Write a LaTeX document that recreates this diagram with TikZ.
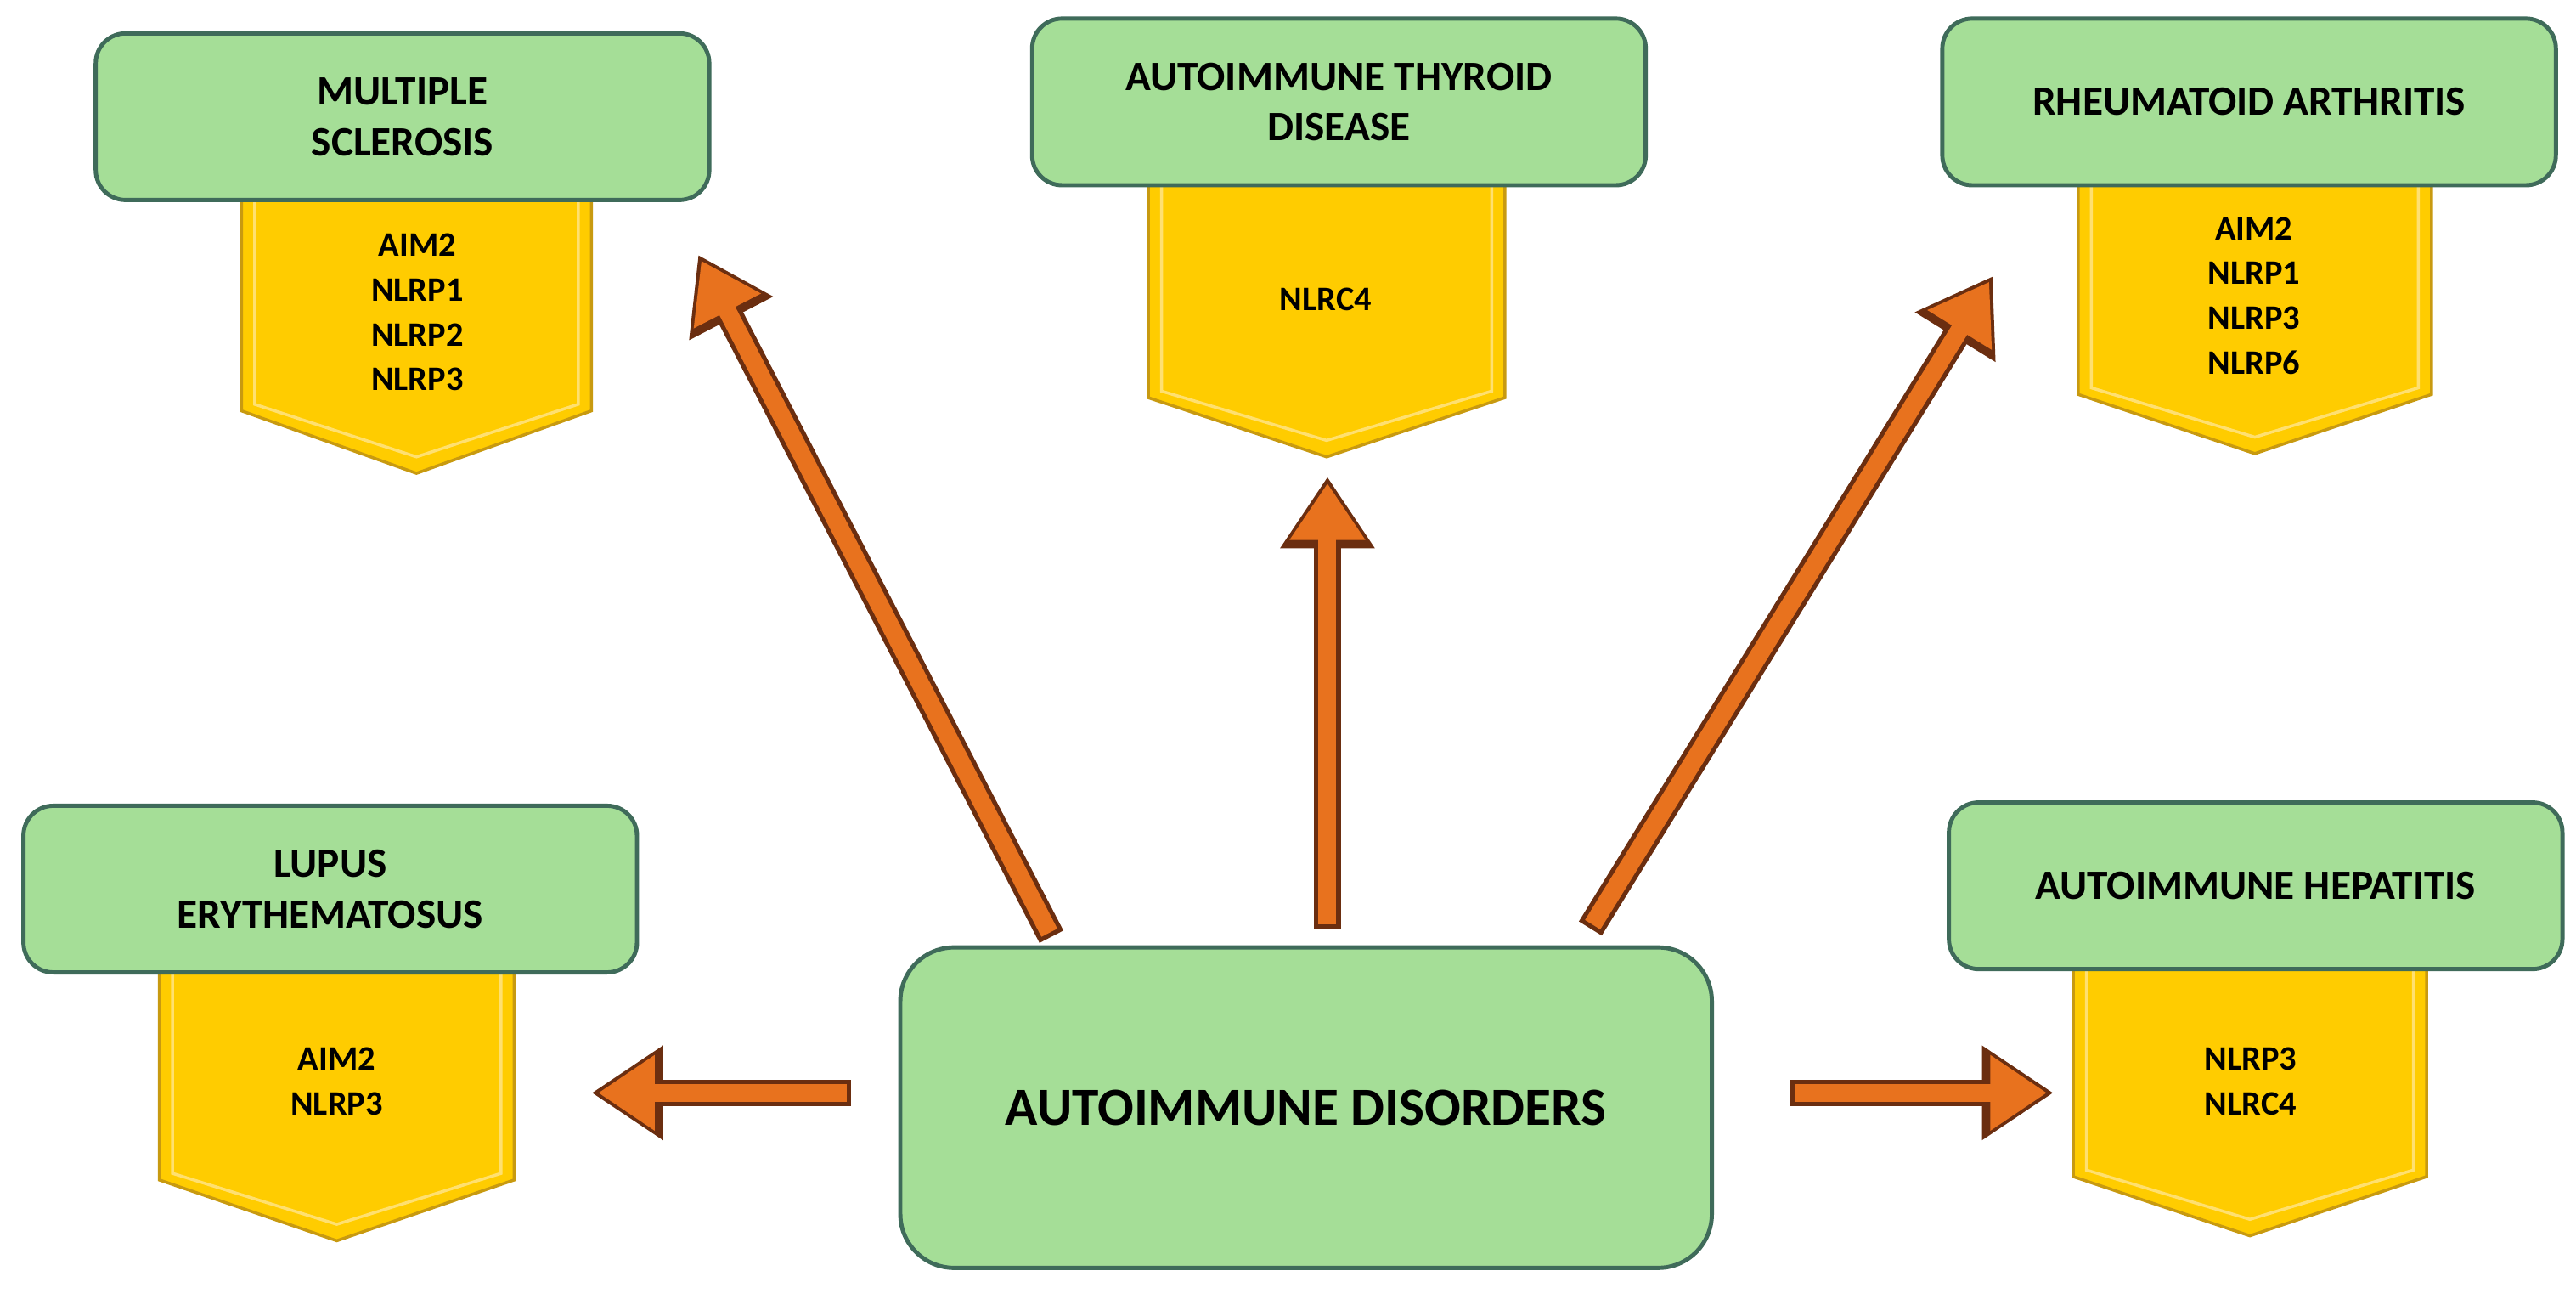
\documentclass[tikz,border=0pt]{standalone}
\usepackage{fontspec}
\setmainfont{Carlito}
\usetikzlibrary{arrows.meta}
\definecolor{gfill}{HTML}{A5DE97}
\definecolor{gdraw}{HTML}{3F6B5A}
\definecolor{yfill}{HTML}{FFCC00}
\definecolor{ydraw}{HTML}{C89A10}
\definecolor{yline}{HTML}{FFE070}
\definecolor{aor}{HTML}{E8721E}
\definecolor{adark}{HTML}{6B2E10}
\tikzset{
 gbox/.style={draw=gdraw,line width=1.4pt,fill=gfill,rounded corners=10pt,inner sep=0pt,outer sep=0pt,align=center,font=\bfseries\fontsize{14}{17}\selectfont,minimum width=7.22cm,minimum height=1.96cm},
 ytext/.style={align=center,font=\bfseries\fontsize{11.5}{15}\selectfont},
 arr/.style={line width=9pt,draw=adark,-{Triangle[length=24pt,width=30pt]},
   postaction={draw=aor,line width=6pt,shorten >=2.2pt,shorten <=1.5pt,-{Triangle[length=19pt,width=24pt]}}}
}
\newcommand{\pent}[5]{%
 \draw[fill=yfill,draw=ydraw,line width=1pt] (#1,#3) -- (#2,#3) -- (#2,#4) -- ({(#1+#2)/2},#5) -- (#1,#4) -- cycle;
 \draw[yline,line width=1pt] (#1+8,#3) -- (#1+8,#4-4) -- ({(#1+#2)/2},#5-10) -- (#2-8,#4-4) -- (#2-8,#3);}
\begin{document}
\begin{tikzpicture}[x=0.01934cm,y=-0.01934cm]
\useasboundingbox (0,0) rectangle (1568,790);
\pent{147}{360}{118}{250}{288}
\pent{699}{916}{110}{242}{278}
\pent{1265}{1480}{110}{240}{276}
\pent{97}{313}{588}{718}{755}
\pent{1262}{1477}{586}{716}{752}
\node[gbox] (ms) at (245,71) {MULTIPLE\\SCLEROSIS};
\node[gbox] (atd) at (815,62) {AUTOIMMUNE THYROID\\DISEASE};
\node[gbox] (ra) at (1369,62) {RHEUMATOID ARTHRITIS};
\node[gbox] (le) at (201,541) {LUPUS\\ERYTHEMATOSUS};
\node[gbox] (ah) at (1373,539) {AUTOIMMUNE HEPATITIS};
\node[gbox,minimum width=9.55cm,minimum height=3.77cm,rounded corners=18pt,font=\bfseries\fontsize{18}{22}\selectfont] (ad) at (795,674) {AUTOIMMUNE DISORDERS};
\node[ytext] (t1) at (254,190) {AIM2\\NLRP1\\NLRP2\\NLRP3};
\node[ytext] (t2) at (807,182) {NLRC4};
\node[ytext] (t3) at (1372,180) {AIM2\\NLRP1\\NLRP3\\NLRP6};
\node[ytext] (t4) at (205,658) {AIM2\\NLRP3};
\node[ytext] (t5) at (1370,658) {NLRP3\\NLRC4};
\coordinate (s1) at (640,570); \coordinate (e1) at (425,155);
\coordinate (s2) at (808,565); \coordinate (e2) at (808,290);
\coordinate (s3) at (968,565); \coordinate (e3) at (1213,168);
\coordinate (s4) at (518,665); \coordinate (e4) at (360,665);
\coordinate (s5) at (1090,665); \coordinate (e5) at (1250,665);
\draw[arr] (s1) -- (e1);
\draw[arr] (s2) -- (e2);
\draw[arr] (s3) -- (e3);
\draw[arr] (s4) -- (e4);
\draw[arr] (s5) -- (e5);
\end{tikzpicture}
\end{document}
